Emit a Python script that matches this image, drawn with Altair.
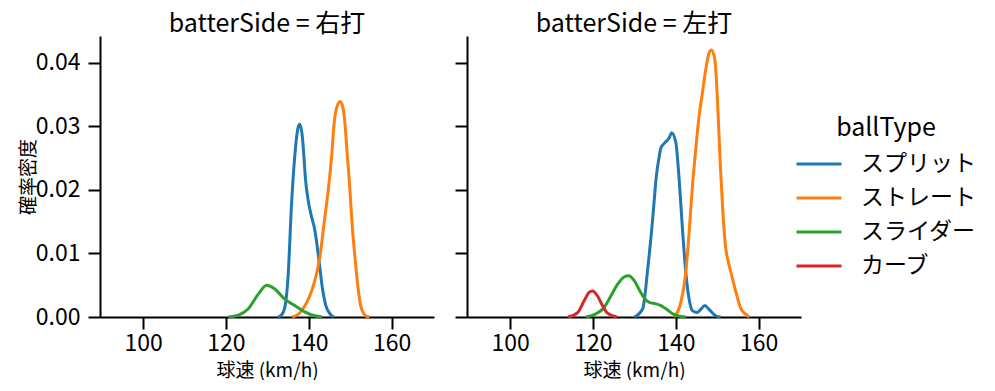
import altair as alt
import pandas as pd

FONT = "Noto Sans CJK JP"

sides = ["右打", "左打"]
ball_types = ["スプリット", "ストレート", "スライダー", "カーブ"]
colors = ["#1f77b4", "#ff7f0e", "#2ca02c", "#d62728"]

# 右打
r_split_v = [132.6, 133.4, 134.2, 134.6, 135.0, 135.8, 136.6, 137.4, 137.8, 138.5, 138.8, 139.2, 139.8, 140.6, 141.4, 142.0, 142.5, 143.3, 144.1, 145.1, 146.0]
r_split_d = [0, 0.0003, 0.0015, 0.0033, 0.0065, 0.0175, 0.0253, 0.0298, 0.0303, 0.0279, 0.0253, 0.0216, 0.0185, 0.0159, 0.0138, 0.0112, 0.0086, 0.0044, 0.0018, 0.0005, 0]

r_str_v = [136.0, 137.4, 138.6, 140.2, 141.3, 142.7, 143.7, 144.7, 145.5, 146.1, 146.9, 147.6, 148.2, 148.7, 149.3, 149.9, 150.4, 151.1, 151.9, 152.5, 153.7, 154.6]
r_str_d = [0, 0.0004, 0.0013, 0.0033, 0.0054, 0.0096, 0.0149, 0.0201, 0.0253, 0.0305, 0.0333, 0.0339, 0.0330, 0.0305, 0.0253, 0.0201, 0.0149, 0.0096, 0.0044, 0.0018, 0.0002, 0]

r_sld_v = [120.6, 123.0, 125.4, 127.8, 129.8, 131.8, 134.2, 136.6, 139.0, 141.4, 143.2]
r_sld_d = [0, 0.0003, 0.0013, 0.0036, 0.0050, 0.0044, 0.0028, 0.0018, 0.0008, 0.0002, 0]

# 左打
l_split_v = [130.0, 132.0, 133.2, 134.4, 134.8, 135.2, 136.0, 136.4, 137.2, 138.4, 139.0, 140.0, 140.8, 141.6, 142.4, 143.2, 144.0, 145.2, 146.0, 147.0, 148.0, 149.6, 150.8]
l_split_d = [0, 0.0013, 0.0075, 0.0154, 0.0185, 0.0216, 0.0253, 0.0266, 0.0273, 0.0282, 0.0290, 0.0274, 0.0216, 0.0138, 0.0070, 0.0028, 0.0010, 0.0007, 0.0012, 0.0018, 0.0012, 0.0002, 0]

l_str_v = [139.6, 141.2, 142.4, 143.2, 144.0, 144.8, 145.6, 146.4, 147.2, 148.0, 148.6, 149.4, 150.0, 150.7, 151.3, 152.0, 152.5, 153.3, 154.5, 155.7, 156.9, 157.7]
l_str_d = [0, 0.0023, 0.0070, 0.0133, 0.0206, 0.0264, 0.0316, 0.0352, 0.0389, 0.0415, 0.0420, 0.0405, 0.0347, 0.0243, 0.0170, 0.0110, 0.0091, 0.0070, 0.0039, 0.0013, 0.0004, 0]

l_sld_v = [118.3, 120.7, 122.7, 124.3, 126.0, 127.5, 128.6, 130.0, 131.4, 132.6, 133.6, 135.0, 136.4, 137.6, 139.0, 140.4, 142.4]
l_sld_d = [0, 0.0005, 0.0015, 0.0033, 0.0052, 0.0063, 0.0065, 0.0057, 0.0040, 0.0028, 0.0023, 0.0021, 0.0018, 0.0013, 0.0006, 0.0002, 0]

l_crv_v = [114.0, 116.3, 117.9, 119.1, 119.9, 121.1, 122.3, 123.5, 125.8]
l_crv_d = [0, 0.0007, 0.0026, 0.0039, 0.0041, 0.0033, 0.0018, 0.0006, 0]

series = [
    ("右打", "スプリット", r_split_v, r_split_d),
    ("右打", "ストレート", r_str_v, r_str_d),
    ("右打", "スライダー", r_sld_v, r_sld_d),
    ("左打", "スプリット", l_split_v, l_split_d),
    ("左打", "ストレート", l_str_v, l_str_d),
    ("左打", "スライダー", l_sld_v, l_sld_d),
    ("左打", "カーブ", l_crv_v, l_crv_d),
]

rows = []
for side, bt, vs, ds in series:
    for v, d in zip(vs, ds):
        rows.append({"batterSide": side, "ballType": bt, "speed": v, "density": d})
df = pd.DataFrame(rows)

color_scale = alt.Scale(domain=ball_types, range=colors)


def panel(side, first):
    yaxis = alt.Axis(
        values=[0, 0.01, 0.02, 0.03, 0.04],
        format=".2f",
        title="確率密度" if first else None,
        labels=first,
    )
    return (
        alt.Chart(df[df["batterSide"] == side])
        .mark_line(interpolate="monotone", strokeWidth=3)
        .encode(
            x=alt.X(
                "speed:Q",
                scale=alt.Scale(domain=[89.6, 170.2], nice=False, zero=False),
                axis=alt.Axis(values=[100, 120, 140, 160], title="球速 (km/h)"),
            ),
            y=alt.Y(
                "density:Q",
                scale=alt.Scale(domain=[0, 0.0442], nice=False),
                axis=yaxis,
            ),
            color=alt.Color(
                "ballType:N",
                scale=color_scale,
                legend=alt.Legend(
                    title="ballType",
                    orient="none",
                    legendX=695,
                    legendY=80,
                    symbolType="stroke",
                    symbolSize=2025,
                    symbolStrokeWidth=3,
                    clipHeight=22,
                    rowPadding=11,
                    labelOffset=18,
                    titlePadding=12,
                    titleAnchor="middle",
                    titleAlign="center",
                    padding=0,
                ),
            ),
            detail="ballType:N",
        )
        .properties(width=334, height=281, title=f"batterSide = {side}")
    )


chart = (
    alt.hconcat(panel("右打", True), panel("左打", False), spacing=20)
    .properties(padding={"left": 11, "top": 4, "right": 0, "bottom": 0})
    .configure(font=FONT)
    .configure_view(stroke=None)
    .configure_axis(
        grid=False,
        domainColor="black",
        domainWidth=2,
        tickColor="black",
        tickWidth=2,
        tickSize=12,
        labelFont=FONT,
        labelFontSize=23,
        labelColor="black",
        titleFont=FONT,
        titleFontSize=19,
        titleFontWeight="normal",
        titleColor="black",
    )
    .configure_axisX(labelPadding=3, titlePadding=6)
    .configure_axisY(labelPadding=8, titlePadding=-3)
    .configure_title(font=FONT, fontSize=25, fontWeight="normal", color="black", anchor="middle", offset=-1)
    .configure_legend(
        labelFont=FONT,
        labelFontSize=23,
        labelColor="black",
        titleFont=FONT,
        titleFontSize=25,
        titleFontWeight="normal",
        titleColor="black",
    )
)

chart.save("out.html", embed_options={"renderer": "svg", "actions": False})
